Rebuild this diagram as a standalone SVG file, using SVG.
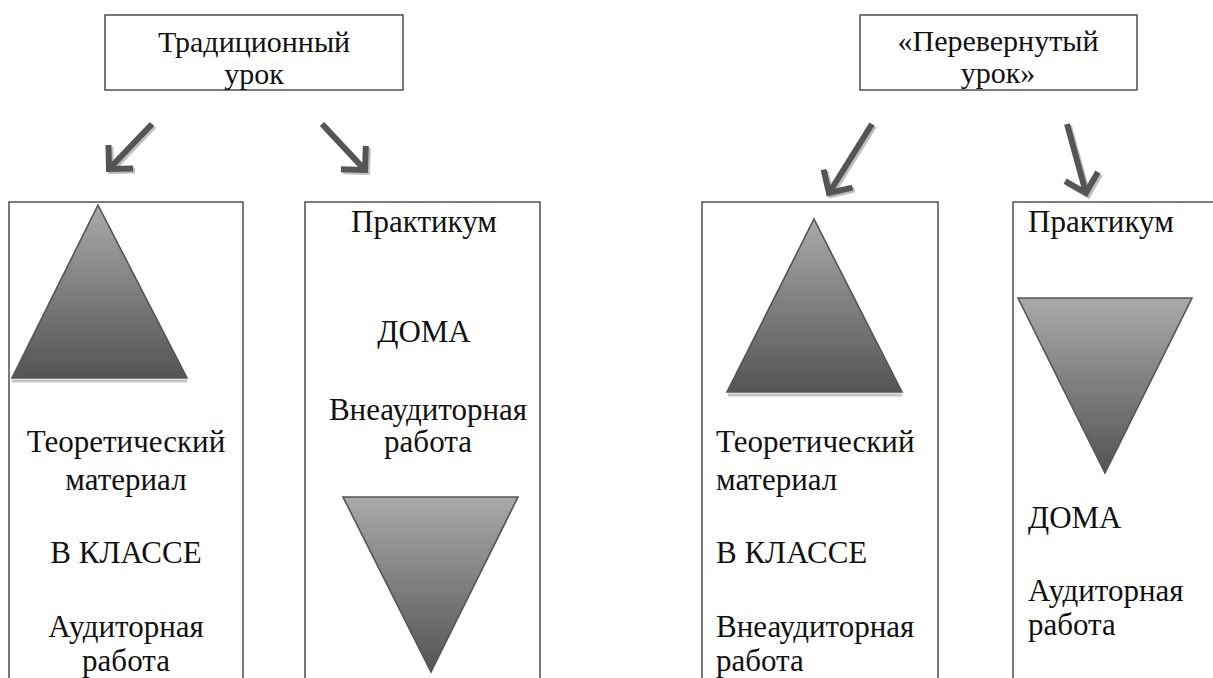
<svg xmlns="http://www.w3.org/2000/svg" width="1213" height="678" viewBox="0 0 1213 678">
<style>
.box{fill:none;stroke:#333;stroke-width:1.3}
text{font-family:"Liberation Serif","Times New Roman",serif;font-size:31px;fill:#111}
.top{font-size:30px}
.c{text-anchor:middle}
.tri{fill:url(#g);stroke:#555;stroke-width:1.6;stroke-linejoin:miter}
.shaft{stroke:#555;stroke-width:6;fill:none}
.shadow{stroke:#bdbdbd;stroke-width:6;fill:none}
.tshadow{stroke:#c4c4c4;stroke-width:3}
</style>
<defs>
<linearGradient id="g" x1="0" y1="0" x2="0" y2="1">
<stop offset="0" stop-color="#a9a9a9"/>
<stop offset="1" stop-color="#545454"/>
</linearGradient>
<marker id="ah" markerUnits="userSpaceOnUse" orient="auto" overflow="visible" refX="0" refY="0" markerWidth="1" markerHeight="1">
<path d="M -17 -17 L 0 0 L -17 17" fill="none" stroke="#555" stroke-width="6" stroke-linejoin="miter"/>
</marker>
<marker id="ahs" markerUnits="userSpaceOnUse" orient="auto" overflow="visible" refX="0" refY="0" markerWidth="1" markerHeight="1">
<path d="M -17 -17 L 0 0 L -17 17" fill="none" stroke="#bdbdbd" stroke-width="6" stroke-linejoin="miter"/>
</marker>
</defs>
<rect width="1213" height="678" fill="#fff"/>

<g id="traditional">
<rect class="box" x="105" y="15" width="298" height="75"/>
<text class="top c" x="254" y="52">Традиционный</text>
<text class="top c" x="254" y="84">урок</text>
</g>

<g id="flipped">
<rect class="box" x="860" y="15" width="277" height="75"/>
<text class="top c" x="998" y="51">«Перевернутый</text>
<text class="top c" x="998" y="83">урок»</text>
</g>

<g id="connectors">
<line class="shadow" x1="154" y1="126" x2="111" y2="171" marker-end="url(#ahs)"/>
<line class="shaft" x1="152" y1="124" x2="109" y2="169" marker-end="url(#ah)"/>
<line class="shadow" x1="324" y1="126" x2="367" y2="172" marker-end="url(#ahs)"/>
<line class="shaft" x1="322" y1="124" x2="365" y2="170" marker-end="url(#ah)"/>
<line class="shadow" x1="874" y1="126" x2="831" y2="195" marker-end="url(#ahs)"/>
<line class="shaft" x1="872" y1="124" x2="829" y2="193" marker-end="url(#ah)"/>
<line class="shadow" x1="1069" y1="126" x2="1088" y2="195" marker-end="url(#ahs)"/>
<line class="shaft" x1="1067" y1="124" x2="1086" y2="193" marker-end="url(#ah)"/>
</g>

<g id="trad-theory">
<rect class="box" x="9" y="202" width="234" height="500"/>
<line class="tshadow" x1="12" y1="381" x2="187" y2="381"/>
<polygon class="tri" points="98,205 187,378 12,378"/>
<text class="c" x="126" y="452">Теоретический</text>
<text class="c" x="126" y="490">материал</text>
<text class="c" x="126" y="563">В КЛАССЕ</text>
<text class="c" x="126" y="637">Аудиторная</text>
<text class="c" x="126" y="671">работа</text>
</g>

<g id="trad-practice">
<rect class="box" x="305" y="202" width="235" height="500"/>
<text class="c" x="424" y="232">Практикум</text>
<text class="c" x="424" y="342">ДОМА</text>
<text class="c" x="428" y="420">Внеаудиторная</text>
<text class="c" x="428" y="452">работа</text>
<polygon class="tri" points="343,497 518,497 431,672"/>
</g>

<g id="flip-theory">
<rect class="box" x="702" y="202" width="236" height="500"/>
<line class="tshadow" x1="728" y1="395" x2="902" y2="395"/>
<polygon class="tri" points="814,219 902,392 727,392"/>
<text x="716" y="452">Теоретический</text>
<text x="716" y="490">материал</text>
<text x="716" y="563">В КЛАССЕ</text>
<text x="716" y="637">Внеаудиторная</text>
<text x="716" y="671">работа</text>
</g>

<g id="flip-practice">
<rect class="box" x="1013" y="202" width="260" height="500"/>
<text x="1028" y="232">Практикум</text>
<polygon class="tri" points="1018,298 1192,298 1105,473"/>
<text x="1028" y="528">ДОМА</text>
<text x="1028" y="601">Аудиторная</text>
<text x="1028" y="635">работа</text>
</g>
</svg>
